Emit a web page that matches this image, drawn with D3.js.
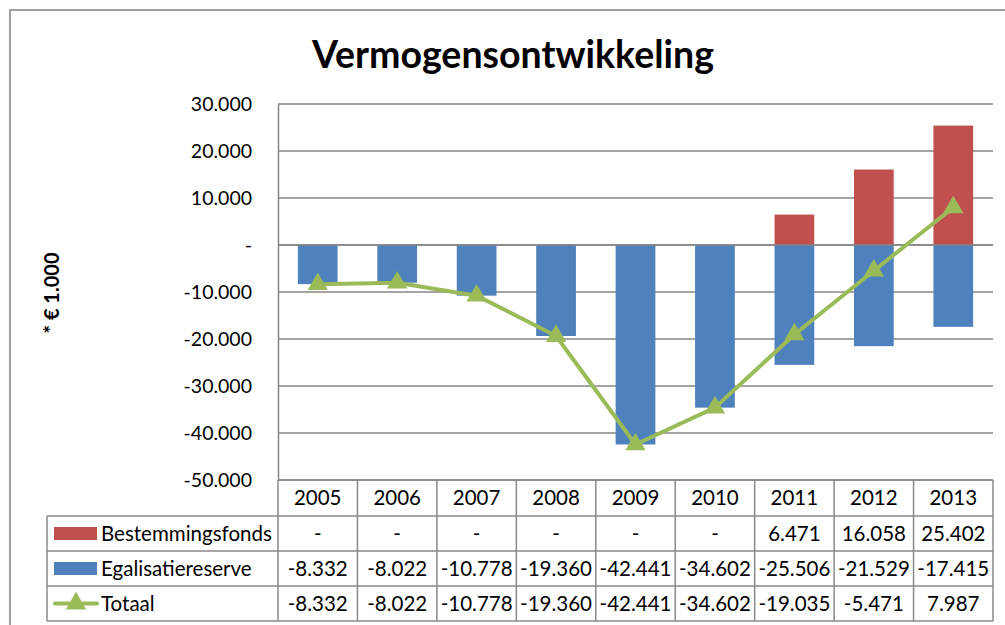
<!DOCTYPE html>
<html><head><meta charset="utf-8">
<script src="https://cdn.jsdelivr.net/npm/d3@7"></script>
<style>body{margin:0;background:#fff}svg{display:block;font-family:Lato,"Open Sans",sans-serif}</style>
</head><body><svg id="c" width="1005" height="625"></svg>
<script>
const years = ["2005","2006","2007","2008","2009","2010","2011","2012","2013"];
const bestemmingsfonds = [null,null,null,null,null,null,6471,16058,25402];
const egalisatiereserve = [-8332,-8022,-10778,-19360,-42441,-34602,-25506,-21529,-17415];
const totaal = [-8332,-8022,-10778,-19360,-42441,-34602,-19035,-5471,7987];
const yTicks = [-50000,-40000,-30000,-20000,-10000,0,10000,20000,30000];
const seriesNames = ["Bestemmingsfonds","Egalisatiereserve","Totaal"];
const colors = {red:"#C0504D", blue:"#4F81BD", green:"#9BBB59", grid:"#868686"};

const loc = d3.formatLocale({decimal:",",thousands:".",grouping:[3],currency:["€",""],minus:"-"});
const fmt = v => (v === null || v === 0) ? "-" : loc.format(",.0f")(v);

const svg = d3.select("#c");
const L = 278, R = 993, T = 104, B = 480;
const tableRows = [516, 551, 586, 621];

svg.append("path").attr("d","M10,625 L10,10 L1005,10").attr("fill","none").attr("stroke","#a0a0a0").attr("stroke-width",2);

svg.append("text").attr("x",513).attr("y",68).attr("text-anchor","middle")
  .attr("font-size",37.5).attr("font-weight","bold").text("Vermogensontwikkeling");

const x = d3.scaleBand().domain(years).range([L,R]).paddingInner(0.5).paddingOuter(0.25);
const xc = d3.scaleBand().domain(years).range([L,R]).padding(0);
const y = d3.scaleLinear().domain([-50000,30000]).range([B,T]);

svg.append("g").selectAll("line").data(yTicks).join("line")
  .attr("x1",L).attr("x2",R).attr("y1",d=>y(d)).attr("y2",d=>y(d))
  .attr("stroke",colors.grid).attr("stroke-width",1.5);

const ya = svg.append("g").attr("transform",`translate(${L},0)`)
  .call(d3.axisLeft(y).tickValues(yTicks).tickSize(0).tickPadding(26).tickFormat(fmt));
ya.select(".domain").attr("stroke",colors.grid).attr("stroke-width",1.5);
ya.selectAll("text").attr("font-size",19.5).attr("font-family","Lato").attr("fill","#000");

svg.append("text").attr("transform","translate(59,293) rotate(-90)").attr("text-anchor","middle")
  .attr("font-size",20).attr("font-weight","bold").text("* € 1.000");

svg.append("g").selectAll("rect").data(years.map((yr,i)=>({yr,v:egalisatiereserve[i]}))).join("rect")
  .attr("x",d=>x(d.yr)).attr("width",x.bandwidth())
  .attr("y",d=>y(Math.max(0,d.v))).attr("height",d=>Math.abs(y(d.v)-y(0)))
  .attr("fill",colors.blue);
svg.append("g").selectAll("rect").data(years.map((yr,i)=>({yr,v:bestemmingsfonds[i]})).filter(d=>d.v!==null)).join("rect")
  .attr("x",d=>x(d.yr)).attr("width",x.bandwidth())
  .attr("y",d=>y(d.v)).attr("height",d=>y(0)-y(d.v))
  .attr("fill",colors.red);

svg.append("line").attr("x1",L).attr("x2",R).attr("y1",y(0)).attr("y2",y(0)).attr("stroke",colors.grid).attr("stroke-width",1.5);

const line = d3.line().x((d,i)=>x(years[i])+x.bandwidth()/2).y(d=>y(d));
svg.append("path").attr("d",line(totaal)).attr("fill","none").attr("stroke",colors.green).attr("stroke-width",4).attr("stroke-linejoin","round");
const tri = d3.symbol().type(d3.symbolTriangle).size(180);
svg.append("g").selectAll("path").data(totaal).join("path")
  .attr("transform",(d,i)=>`translate(${x(years[i])+x.bandwidth()/2},${y(d)})`)
  .attr("d",tri()).attr("fill",colors.green);

const tg = svg.append("g").attr("font-size",20.5).attr("fill","#000");
const tc = "#8a8a8a";
tg.append("line").attr("x1",L).attr("x2",R).attr("y1",B).attr("y2",B).attr("stroke",tc).attr("stroke-width",1.5);
tableRows.forEach(yy=>tg.append("line").attr("x1",47).attr("x2",R).attr("y1",yy).attr("y2",yy).attr("stroke",tc).attr("stroke-width",1.5));
tg.append("line").attr("x1",47).attr("x2",47).attr("y1",tableRows[0]).attr("y2",tableRows[3]).attr("stroke",tc).attr("stroke-width",1.5);
years.forEach(yr=>tg.append("line").attr("x1",xc(yr)).attr("x2",xc(yr)).attr("y1",B).attr("y2",tableRows[3]).attr("stroke",tc).attr("stroke-width",1.5));
tg.append("line").attr("x1",R).attr("x2",R).attr("y1",B).attr("y2",tableRows[3]).attr("stroke",tc).attr("stroke-width",1.5);

tg.selectAll("text.h").data(years).join("text").attr("class","h")
  .attr("x",d=>xc(d)+xc.bandwidth()/2).attr("y",(B+tableRows[0])/2+7).attr("text-anchor","middle").text(d=>d);

const rowsData = [bestemmingsfonds, egalisatiereserve, totaal];
rowsData.forEach((arr,r)=>{
  const cy = (tableRows[r]+tableRows[r+1])/2;
  tg.append("g").selectAll("text").data(arr).join("text")
    .attr("x",(d,i)=>xc(years[i])+xc.bandwidth()/2).attr("y",cy+7).attr("text-anchor","middle").text(d=>fmt(d));
  tg.append("text").attr("x",101).attr("y",cy+7).text(seriesNames[r]);
});
[colors.red, colors.blue].forEach((c,r)=>{
  const cy = (tableRows[r]+tableRows[r+1])/2;
  tg.append("rect").attr("x",54).attr("y",cy-6.5).attr("width",43).attr("height",13).attr("fill",c);
});
{
  const cy = (tableRows[2]+tableRows[3])/2;
  tg.append("line").attr("x1",55).attr("x2",97).attr("y1",cy).attr("y2",cy).attr("stroke",colors.green).attr("stroke-width",4).attr("stroke-linecap","round");
  tg.append("path").attr("transform",`translate(76,${cy})`).attr("d",tri()).attr("fill",colors.green);
}
</script></body></html>
